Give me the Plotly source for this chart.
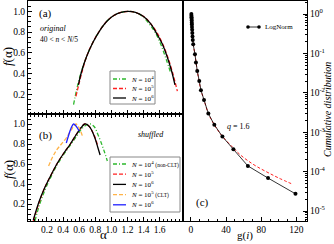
import plotly.graph_objects as go

W, H = 334, 244
FONT = "Liberation Serif"

# ---------------- data ----------------
# panel (a): original, 40 < n < N/5
a_alpha_N4 = [0.53, 0.57, 0.62, 0.69, 0.77, 0.86, 0.95, 1.03, 1.12, 1.21, 1.30, 1.39, 1.47, 1.55, 1.62, 1.68, 1.74]
a_f_N4 = [0.10, 0.25, 0.40, 0.56, 0.70, 0.82, 0.91, 0.96, 0.99, 1.00, 0.99, 0.95, 0.88, 0.79, 0.67, 0.54, 0.40]
a_alpha_N5 = [0.56, 0.60, 0.64, 0.69, 0.77, 0.86, 0.95, 1.03, 1.12, 1.21, 1.30, 1.40, 1.49, 1.57, 1.64, 1.70, 1.76, 1.82]
a_f_N5 = [0.18, 0.31, 0.43, 0.56, 0.70, 0.82, 0.91, 0.96, 0.99, 1.00, 0.99, 0.95, 0.88, 0.79, 0.68, 0.56, 0.41, 0.23]
a_alpha_N6 = [0.59, 0.63, 0.69, 0.77, 0.86, 0.95, 1.03, 1.12, 1.21, 1.30, 1.40, 1.49, 1.56, 1.63, 1.69, 1.75, 1.79]
a_f_N6 = [0.29, 0.42, 0.56, 0.70, 0.82, 0.91, 0.96, 0.99, 1.00, 0.99, 0.95, 0.88, 0.79, 0.69, 0.57, 0.42, 0.29]

# panel (b): shuffled
b_alpha_N4 = [0.05, 0.11, 0.18, 0.26, 0.34, 0.42, 0.50, 0.57, 0.63, 0.69, 0.74, 0.79, 0.83, 0.87, 0.91, 0.95]
b_f_N4 = [0.03, 0.20, 0.35, 0.49, 0.61, 0.71, 0.80, 0.88, 0.95, 0.99, 1.00, 0.97, 0.90, 0.82, 0.73, 0.63]
b_alpha_N5 = [0.03, 0.10, 0.17, 0.25, 0.33, 0.41, 0.49, 0.56, 0.62, 0.67, 0.72, 0.76, 0.80, 0.83]
b_f_N5 = [0.03, 0.21, 0.36, 0.49, 0.61, 0.71, 0.80, 0.89, 0.96, 1.00, 0.98, 0.93, 0.86, 0.78]
b_alpha_N6 = [0.03, 0.10, 0.17, 0.25, 0.33, 0.41, 0.49, 0.56, 0.62, 0.67, 0.72, 0.76, 0.80, 0.83, 0.86]
b_f_N6 = [0.04, 0.22, 0.36, 0.49, 0.61, 0.71, 0.80, 0.89, 0.96, 1.00, 0.98, 0.93, 0.85, 0.77, 0.69]
b_alpha_N5_clt = [0.22, 0.27, 0.32, 0.38, 0.44, 0.50, 0.56, 0.60, 0.64]
b_f_N5_clt = [0.58, 0.67, 0.74, 0.80, 0.86, 0.94, 1.00, 0.96, 0.88]
b_alpha_N6_clt = [0.44, 0.47, 0.50, 0.53, 0.56, 0.60]
b_f_N6_clt = [0.81, 0.89, 0.96, 1.00, 0.98, 0.93]

alpha_ticks = [0.2, 0.4, 0.6, 0.8, 1.0, 1.2, 1.4, 1.6]
f_ticks = [0.2, 0.4, 0.6, 0.8, 1.0]

# panel (c): cumulative distribution of g(i)
c_g_lognorm = [0.5, 0.6, 0.7, 0.8, 0.9, 1.0, 1.1, 1.2, 1.4, 1.6, 1.8, 2.1, 2.6, 4.6, 5.7, 7.2,
               9.5, 11.4, 14.9, 19.8, 26.6, 35.8, 48.3, 64.8, 87.7, 118.9]
c_P_lognorm = [1.0, 0.91, 0.83, 0.76, 0.68, 0.60, 0.54, 0.47, 0.40, 0.33, 0.27, 0.22, 0.17, 0.095, 0.059, 0.036,
               0.020, 0.0117, 0.0066, 0.0030, 0.00155, 7.8e-4, 3.7e-4, 1.4e-4, 6.9e-5, 2.75e-5]
c_g_q = [0.5, 1.0, 2.0, 3.0, 4.6, 7.2, 11.4, 14.9, 19.8, 26.6, 35.8, 48.3, 56.0, 64.8, 75.0, 87.7, 100.0, 114.0]
c_P_q = [1.0, 0.60, 0.24, 0.15, 0.095, 0.036, 0.0117, 0.0066, 0.0030, 0.00155, 7.9e-4, 4.0e-4, 2.7e-4,
         1.9e-4, 1.35e-4, 9.5e-5, 6.9e-5, 5.0e-5]

c_yticks = [1, 1e-1, 1e-2, 1e-3, 1e-4, 1e-5]
c_yticktext = ["10<sup>0</sup>", "10<sup>-1</sup>", "10<sup>-2</sup>", "10<sup>-3</sup>",
               "10<sup>-4</sup>", "10<sup>-5</sup>"]

GREEN = "#2DB82D"
RED = "#FF2020"
ORANGE = "#FFB347"
BLUE = "#2020FF"

# ---------------- figure ----------------
fig = go.Figure()

def line(x, y, color, dash, xa, ya, width=1.3):
    fig.add_trace(go.Scatter(x=x, y=y, mode="lines", xaxis=xa, yaxis=ya, showlegend=False,
                             line=dict(color=color, dash=dash, width=width, shape="spline")))

# (a)
line(a_alpha_N4, a_f_N4, GREEN, "4px,2px,1px,2px", "x", "y")
line(a_alpha_N5, a_f_N5, RED, "4px,2px", "x", "y")
line(a_alpha_N6, a_f_N6, "black", "solid", "x", "y")
# (b)
line(b_alpha_N4, b_f_N4, GREEN, "4px,2px,1px,2px", "x2", "y2")
line(b_alpha_N5, b_f_N5, RED, "4px,2px", "x2", "y2")
line(b_alpha_N6, b_f_N6, "black", "solid", "x2", "y2")
line(b_alpha_N5_clt, b_f_N5_clt, ORANGE, "4px,2px", "x2", "y2")
line(b_alpha_N6_clt, b_f_N6_clt, BLUE, "solid", "x2", "y2")
# (c)
fig.add_trace(go.Scatter(x=c_g_q, y=c_P_q, mode="lines", xaxis="x3", yaxis="y3", showlegend=False,
                         line=dict(color=RED, dash="3px,2px", width=1, shape="spline")))
fig.add_trace(go.Scatter(x=c_g_lognorm, y=c_P_lognorm, mode="lines+markers", xaxis="x3", yaxis="y3",
                         showlegend=False, line=dict(color="black", width=0.8),
                         marker=dict(color="black", size=4)))

def px(x):
    return x / W

def py(y):
    return 1 - y / H

L, M, R = 28, 183, 307
T, MID, B = 1, 114, 221

tickfont = dict(family=FONT, size=9.5, color="black")
common = dict(showline=True, linecolor="black", linewidth=1, ticks="inside", tickcolor="black",
              showgrid=False, zeroline=False, tickfont=tickfont)
minor_a = dict(dtick=0.05, tick0=0, ticks="inside", ticklen=2.5, tickcolor="black")

fig.update_layout(
    width=W, height=H, margin=dict(l=0, r=0, t=0, b=0),
    paper_bgcolor="white", plot_bgcolor="white", showlegend=False,
    xaxis=dict(domain=[px(L), px(M)], anchor="y", range=[-0.036, 1.89], tickmode="array",
               tickvals=alpha_ticks, ticklen=4, mirror=True, showticklabels=False,
               minor=minor_a, **common),
    yaxis=dict(domain=[py(MID), py(T)], anchor="x", range=[0.01, 1.1], tickmode="array",
               tickvals=f_ticks, ticklen=4, mirror=True, tickformat=".1f",
               minor=minor_a, **common),
    xaxis2=dict(domain=[px(L), px(M)], anchor="y2", range=[-0.036, 1.89], tickmode="array",
                tickvals=alpha_ticks, ticklen=4, mirror="ticks", tickformat=".1f",
                minor=minor_a, **common),
    yaxis2=dict(domain=[py(B), py(MID)], anchor="x2", range=[0.03, 1.1], tickmode="array",
                tickvals=f_ticks, ticklen=4, mirror=True, tickformat=".1f",
                minor=minor_a, **common),
    xaxis3=dict(domain=[px(M), px(R)], anchor="y3", range=[-9, 132], dtick=40, tick0=0,
                ticklen=4, mirror=True,
                minor=dict(dtick=10, tick0=0, ticks="inside", ticklen=2.5, tickcolor="black"), **common),
    yaxis3=dict(domain=[py(B), py(T)], anchor="x3", type="log", range=[-5.25, 0.33], side="right",
                tickmode="array", tickvals=c_yticks, ticktext=c_yticktext, ticklen=4, mirror=True,
                minor=dict(tickmode="array",
                           tickvals=[k * 10.0 ** e for e in range(-6, 1) for k in range(2, 10)],
                           ticks="inside", ticklen=2, tickcolor="black"), **common),
)

ann = []
shapes = []

def text(x, y, s, size, xanchor="left", yanchor="middle", angle=0):
    ann.append(dict(x=px(x), y=py(y), xref="paper", yref="paper", text=s, showarrow=False,
                    xanchor=xanchor, yanchor=yanchor, textangle=angle,
                    font=dict(family=FONT, size=size, color="black")))

# axis titles
text(8, 57, "<i>f</i>(α)", 13, "center", "middle", -90)
text(8, 170, "<i>f</i>(α)", 13, "center", "middle", -90)
text(103, 244, "α", 13, "center", "bottom")
text(245, 244, "g(<i>i</i>)", 11, "center", "bottom")
text(328, 110, "<i>Cumulative distribution</i>", 10, "center", "middle", -90)

# panel labels
text(37, 13, "(a)", 11)
text(38, 29, "<i>original</i>", 8)
text(38, 40, "40 &lt; <i>n</i> &lt; <i>N</i>/5", 7.5)
text(37, 135, "(b)", 11)
text(166, 134, "<i>shuffled</i>", 8, "right")
text(194, 202, "(c)", 11)
text(225, 127, "<i>q</i> = 1.6", 8)

# legend (a)
shapes.append(dict(type="rect", xref="paper", yref="paper", x0=px(110), x1=px(155), y0=py(104), y1=py(71),
                   line=dict(color="#888888", width=1), fillcolor="white", layer="above"))
leg_a = [("<i>N</i> = 10<sup>4</sup>", GREEN, "4px,2px,1px,2px"),
         ("<i>N</i> = 10<sup>5</sup>", RED, "4px,2px"),
         ("<i>N</i> = 10<sup>6</sup>", "black", "solid")]
for i, (s, c, d) in enumerate(leg_a):
    yy = 79 + 9.5 * i
    shapes.append(dict(type="line", xref="paper", yref="paper", x0=px(113), x1=px(126), y0=py(yy), y1=py(yy),
                       line=dict(color=c, dash=d, width=1.3), layer="above"))
    text(129, yy, s, 7)

# legend (b)
shapes.append(dict(type="rect", xref="paper", yref="paper", x0=px(110), x1=px(180), y0=py(212), y1=py(157),
                   line=dict(color="#888888", width=1), fillcolor="white", layer="above"))
leg_b = [("<i>N</i> = 10<sup>4</sup> <span style='font-size:5.5px'>(non-CLT)</span>", GREEN, "4px,2px,1px,2px"),
         ("<i>N</i> = 10<sup>5</sup>", RED, "4px,2px"),
         ("<i>N</i> = 10<sup>6</sup>", "black", "solid"),
         ("<i>N</i> = 10<sup>5</sup> <span style='font-size:5.5px'>(CLT)</span>", ORANGE, "4px,2px"),
         ("<i>N</i> = 10<sup>6</sup>", BLUE, "solid")]
for i, (s, c, d) in enumerate(leg_b):
    yy = 164 + 10.2 * i
    shapes.append(dict(type="line", xref="paper", yref="paper", x0=px(113), x1=px(126), y0=py(yy), y1=py(yy),
                       line=dict(color=c, dash=d, width=1.3), layer="above"))
    text(129, yy, s, 7)

# legend (c)
shapes.append(dict(type="line", xref="paper", yref="paper", x0=px(248), x1=px(259), y0=py(27), y1=py(27),
                   line=dict(color="black", width=0.8)))
for xx in (248, 259):
    shapes.append(dict(type="circle", xref="paper", yref="paper", x0=px(xx - 1.8), x1=px(xx + 1.8),
                       y0=py(27 + 1.8), y1=py(27 - 1.8), fillcolor="black", line=dict(color="black", width=0)))
text(263, 27, "LogNorm", 7)

fig.update_layout(annotations=ann, shapes=shapes)
fig.write_html("out.html", config={"displayModeBar": False},
               post_script="document.body.style.margin='0';document.body.style.padding='0';")
